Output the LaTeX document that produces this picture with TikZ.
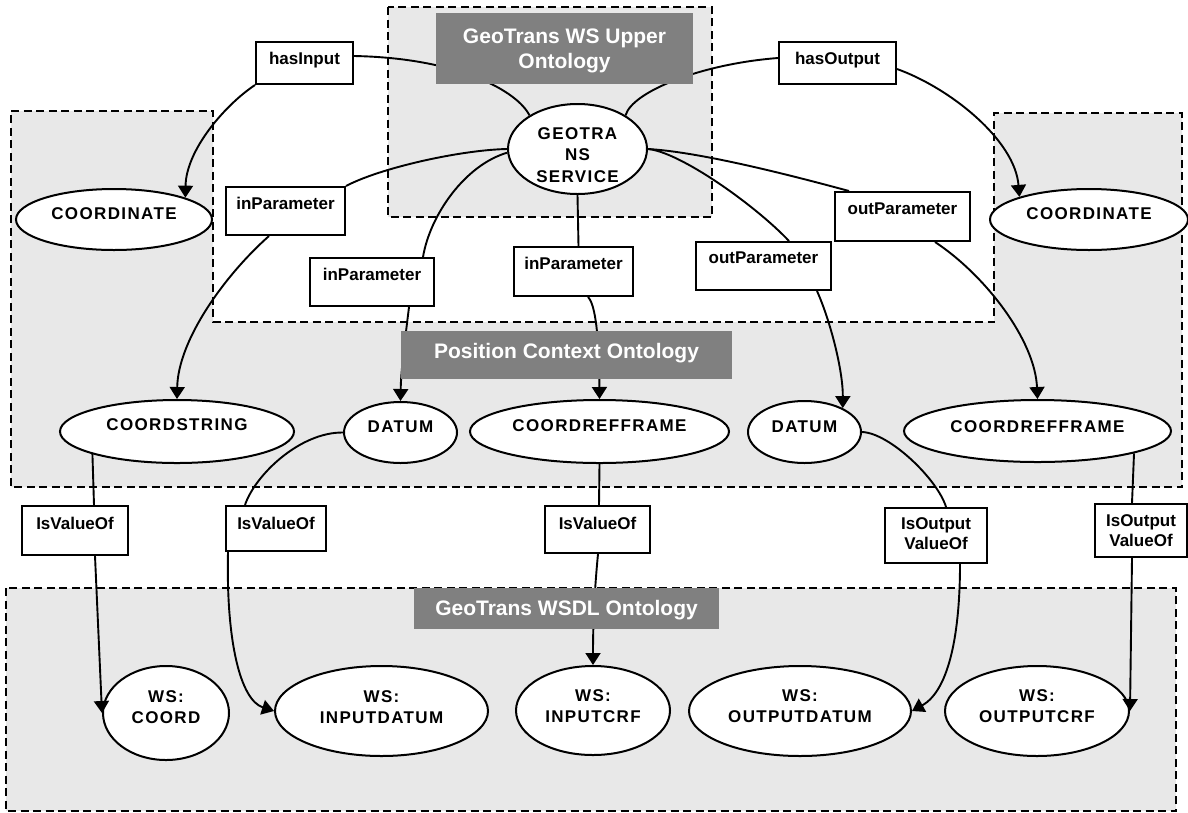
\documentclass[tikz,border=0pt]{standalone}
\usepackage{fontspec}
\setmainfont{Liberation Sans}
\newfontfamily\capsfont[LetterSpace=8]{Liberation Sans}
\usetikzlibrary{shapes.geometric,arrows.meta}
\definecolor{regiongray}{RGB}{232,232,232}
\definecolor{labelgray}{RGB}{128,128,128}
\tikzset{
  region/.style={draw=black, dash pattern=on 8pt off 4.5pt, line width=2pt, fill=regiongray},
  relbox/.style={draw, rectangle, line width=2pt, fill=white, inner sep=0pt,
    font=\fontsize{17}{20}\selectfont\bfseries},
  concept/.style={draw, ellipse, line width=2pt, fill=white, inner sep=0pt,
    font=\capsfont\fontsize{17}{21.5}\selectfont\bfseries, text height=12pt, text depth=12pt},
  ontlabel/.style={rectangle, fill=labelgray, inner sep=0pt, text=white,
    font=\fontsize{21}{25}\selectfont\bfseries},
  link/.style={line width=1.9pt},
  arrowlink/.style={link, -{Triangle[length=12pt,width=15pt]}},
}
\begin{document}
\begin{tikzpicture}[x=1pt,y=-1pt]
\useasboundingbox (0,0) rectangle (1188,812);

% ontology regions
\draw[region] (388,7) rectangle (712,217);
\draw[region] (11,111) -- (213,111) -- (213,322) -- (994,322) -- (994,113)
  -- (1182,113) -- (1182,487) -- (11,487) -- cycle;
\draw[region] (6,588) rectangle (1176,811);

% relation boxes
\node[relbox, minimum width=97pt, minimum height=42pt, text height=22.5pt, text depth=19.5pt] (hasIn) at (304.5,63) {hasInput};
\node[relbox, minimum width=117pt, minimum height=42pt, text height=22.5pt, text depth=19.5pt] (hasOut) at (837.5,63) {hasOutput};
\node[relbox, minimum width=119pt, minimum height=48pt, text height=22.5pt, text depth=25.5pt] (inP1) at (285.5,211) {inParameter};
\node[relbox, minimum width=124pt, minimum height=48pt, text height=22.5pt, text depth=25.5pt] (inP2) at (372,282) {inParameter};
\node[relbox, minimum width=119pt, minimum height=49pt, text height=22.5pt, text depth=26.5pt] (inP3) at (573.5,271.5) {inParameter};
\node[relbox, minimum width=135pt, minimum height=48pt, text height=21.5pt, text depth=26.5pt] (outP1) at (763.5,266) {outParameter};
\node[relbox, minimum width=135pt, minimum height=49pt, text height=22.5pt, text depth=26.5pt] (outP2) at (902.5,216.5) {outParameter};
\node[relbox, minimum width=106pt, minimum height=49pt, text height=23.5pt, text depth=25.5pt] (isv1) at (75,530.5) {IsValueOf};
\node[relbox, minimum width=100pt, minimum height=45pt, text height=23.5pt, text depth=21.5pt] (isv2) at (276,528.5) {IsValueOf};
\node[relbox, minimum width=105pt, minimum height=47pt, text height=23.5pt, text depth=23.5pt] (isv3) at (597.5,529.5) {IsValueOf};
\node[relbox, minimum width=102pt, minimum height=55pt, text height=21.5pt, text depth=33.5pt] (iso1) at (936,535.5)
  {\begin{tabular}[t]{@{}c@{}}IsOutput\\ValueOf\end{tabular}};
\node[relbox, minimum width=92pt, minimum height=53pt, text height=22.5pt, text depth=30.5pt] (iso2) at (1141,530.5)
  {\begin{tabular}[t]{@{}c@{}}IsOutput\\ValueOf\end{tabular}};

% concepts
\node[concept, minimum width=196pt, minimum height=61pt] (coordL) at (114,219.5) {COORDINATE};
\node[concept, minimum width=198pt, minimum height=61pt] (coordR) at (1089,219.5) {COORDINATE};
\node[concept, minimum width=139pt, minimum height=90pt, text height=12pt, text depth=32pt] (geo) at (577.5,149)
  {\begin{tabular}[t]{@{}c@{}}GEOTRA\\NS\\SERVICE\end{tabular}};
\node[concept, minimum width=234pt, minimum height=63pt, text height=11pt, text depth=13pt] (cstr) at (177,431.5) {COORDSTRING};
\node[concept, minimum width=113pt, minimum height=61pt] (datumL) at (400.5,432.5) {DATUM};
\node[concept, minimum width=259pt, minimum height=63pt] (crfM) at (599.5,431.5) {COORDREFFRAME};
\node[concept, minimum width=113pt, minimum height=62pt] (datumR) at (804.5,432) {DATUM};
\node[concept, minimum width=267pt, minimum height=62pt, text height=13pt, text depth=11pt] (crfR) at (1037.5,431) {COORDREFFRAME};
\node[concept, minimum width=126pt, minimum height=94pt, text height=10pt, text depth=32pt] (wsCoord) at (166,713)
  {\begin{tabular}[t]{@{}c@{}}WS:\\COORD\end{tabular}};
\node[concept, minimum width=213pt, minimum height=90pt, text height=10pt, text depth=28pt] (wsInDatum) at (381.5,711)
  {\begin{tabular}[t]{@{}c@{}}WS:\\INPUTDATUM\end{tabular}};
\node[concept, minimum width=154pt, minimum height=89pt, text height=10pt, text depth=29pt] (wsInCrf) at (593,710.5)
  {\begin{tabular}[t]{@{}c@{}}WS:\\INPUTCRF\end{tabular}};
\node[concept, minimum width=222pt, minimum height=90pt, text height=10pt, text depth=30pt] (wsOutDatum) at (800,711)
  {\begin{tabular}[t]{@{}c@{}}WS:\\OUTPUTDATUM\end{tabular}};
\node[concept, minimum width=184pt, minimum height=90pt, text height=10pt, text depth=30pt] (wsOutCrf) at (1037,711)
  {\begin{tabular}[t]{@{}c@{}}WS:\\OUTPUTCRF\end{tabular}};

% service inputs and outputs
\draw[link] (geo.145) .. controls (518,92) and (460,58) .. ([yshift=7pt]hasIn.east);
\draw[arrowlink] (hasIn.south west) .. controls (225,105) and (186,150) .. (coordL.17);
\draw[link] (geo.35) .. controls (632,92) and (700,64) .. ([yshift=5pt]hasOut.west);
\draw[arrowlink] ([yshift=-6pt]hasOut.east) .. controls (950,88) and (1015,140) .. (coordR.162);

% parameters
\draw[link] (geo.west) .. controls (460,150) and (380,168) .. (inP1.north east);
\draw[arrowlink] ([xshift=-16.5pt]inP1.south) .. controls (225,275) and (178,340) .. (cstr.north);
\draw[link] (geo.183) .. controls (465,165) and (430,215) .. ([xshift=51pt]inP2.north);
\draw[arrowlink] ([xshift=37pt]inP2.south) .. controls (405,340) and (401,370) .. (datumL.north);
\draw[link] (geo.south) -- ([xshift=5pt]inP3.north);
\draw[arrowlink] ([xshift=14.5pt]inP3.south) .. controls (596,305) and (599,340) .. (crfM.north);
\draw[link] (geo.east) .. controls (680,152) and (755,205) .. ([xshift=25.5pt]outP1.north);
\draw[arrowlink] ([xshift=53.5pt]outP1.south) .. controls (830,320) and (843,370) .. (datumR.32);
\draw[link] (geo.east) .. controls (700,152) and (790,175) .. ([xshift=-53.5pt]outP2.north);
\draw[arrowlink] ([xshift=32.5pt]outP2.south) .. controls (985,275) and (1035,340) .. (crfR.north);

% value mappings to the WSDL concepts
\draw[link] (cstr.195) -- ([xshift=19pt]isv1.north);
\draw[arrowlink] ([xshift=20pt]isv1.south) -- (wsCoord.west);
\draw[link] (datumL.west) .. controls (300,432) and (255,475) .. ([xshift=-31pt]isv2.north);
\draw[arrowlink] ([xshift=-48pt]isv2.south) .. controls (226,640) and (240,700) .. (wsInDatum.west);
\draw[link] (crfM.south) -- ([xshift=1.5pt]isv3.north);
\draw[arrowlink] ([xshift=0.5pt]isv3.south) .. controls (596,575) and (593,610) .. (wsInCrf.north);
\draw[link] (datumR.east) .. controls (890,433) and (938,480) .. ([xshift=10pt]iso1.north);
\draw[arrowlink] ([xshift=24pt]iso1.south) .. controls (960,630) and (950,690) .. (wsOutDatum.east);
\draw[link] (crfR.-13) -- ([xshift=-9pt]iso2.north);
\draw[arrowlink] ([xshift=-9pt]iso2.south) -- (wsOutCrf.east);

% ontology titles
\node[ontlabel, minimum width=257pt, minimum height=71pt, text height=30pt, text depth=41pt] (lblUpper) at (564.5,48.5)
  {\begin{tabular}[t]{@{}c@{}}GeoTrans WS Upper\\Ontology\end{tabular}};
\node[ontlabel, minimum width=331pt, minimum height=48pt, text height=27pt, text depth=21pt] (lblPos) at (566.5,355) {Position Context Ontology};
\node[ontlabel, minimum width=305pt, minimum height=41pt, text height=27pt, text depth=14pt] (lblWsdl) at (566.5,608.5) {GeoTrans WSDL Ontology};
\end{tikzpicture}
\end{document}
